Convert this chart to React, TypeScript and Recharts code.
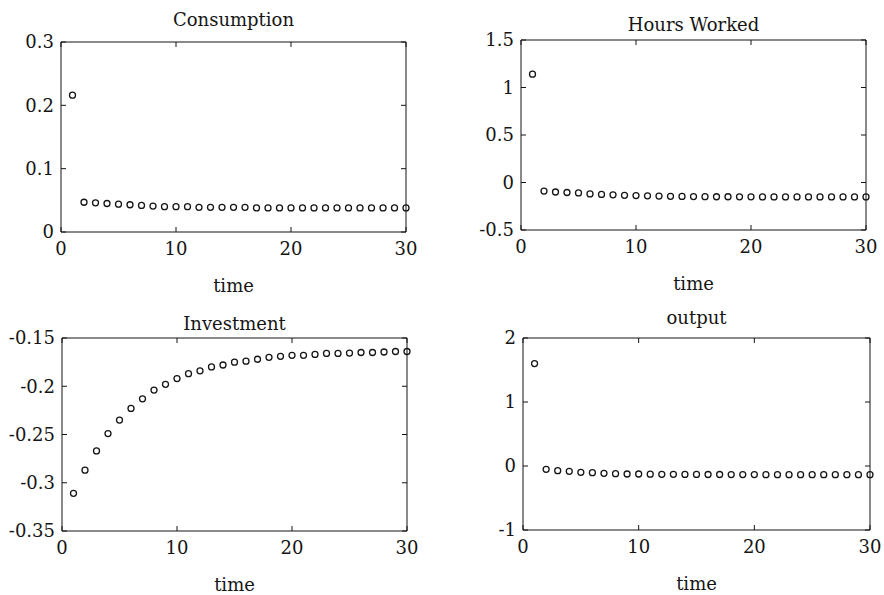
import { ScatterChart, Scatter, XAxis, YAxis, ReferenceArea, Label } from "recharts";

const timeTicks = [0, 10, 20, 30];

const consumption = [
  0.216, 0.047, 0.046, 0.045, 0.044, 0.043, 0.042, 0.041, 0.04, 0.04,
  0.04, 0.039, 0.039, 0.039, 0.039, 0.039, 0.038, 0.038, 0.038, 0.038,
  0.038, 0.038, 0.038, 0.038, 0.038, 0.038, 0.038, 0.038, 0.038, 0.038,
];
const consumptionTicks = [0, 0.1, 0.2, 0.3];

const hoursWorked = [
  1.14, -0.09, -0.1, -0.105, -0.11, -0.12, -0.125, -0.13, -0.135, -0.138,
  -0.14, -0.143, -0.145, -0.147, -0.148, -0.149, -0.15, -0.15, -0.151, -0.151,
  -0.152, -0.152, -0.152, -0.152, -0.152, -0.152, -0.152, -0.152, -0.152, -0.152,
];
const hoursTicks = [-0.5, 0, 0.5, 1, 1.5];

const investment = [
  -0.311, -0.287, -0.267, -0.249, -0.235, -0.223, -0.213, -0.204, -0.198, -0.192,
  -0.187, -0.184, -0.18, -0.178, -0.175, -0.174, -0.172, -0.17, -0.169, -0.168,
  -0.168, -0.167, -0.166, -0.166, -0.1656, -0.165, -0.165, -0.1645, -0.164, -0.164,
];
const investmentTicks = [-0.35, -0.3, -0.25, -0.2, -0.15];

const output = [
  1.6, -0.052, -0.073, -0.083, -0.099, -0.104, -0.114, -0.12, -0.125, -0.125,
  -0.128, -0.13, -0.13, -0.132, -0.132, -0.133, -0.133, -0.134, -0.134, -0.134,
  -0.135, -0.135, -0.135, -0.135, -0.135, -0.135, -0.135, -0.135, -0.135, -0.135,
];
const outputTicks = [-1, 0, 1, 2];

const INK = "#151515";
const TICK = 5;

const toPoints = (vals: number[]) => vals.map((v, i) => ({ t: i + 1, v }));

function Dot(p: any) {
  return <circle cx={p.cx} cy={p.cy} r={3} fill="none" stroke={INK} strokeWidth={1.3} />;
}

type PanelProps = {
  title: string;
  values: number[];
  yTicks: number[];
  left: number;
  top: number;
  w: number;
  h: number;
  titleOffset: number;
};

function Panel({ title, values, yTicks, left, top, w, h, titleOffset }: PanelProps) {
  const yMin = yTicks[0];
  const yMax = yTicks[yTicks.length - 1];

  // inward ticks on both sides + label at the left
  const yTick = (p: any) => (
    <g>
      <line x1={p.x} x2={p.x + TICK} y1={p.y} y2={p.y} stroke={INK} />
      <line x1={p.x + w} x2={p.x + w - TICK} y1={p.y} y2={p.y} stroke={INK} />
      <text x={p.x - 7} y={p.y} dy="0.36em" textAnchor="end" fill={INK} fontSize={18}>
        {p.payload.value}
      </text>
    </g>
  );
  const xTick = (p: any) => (
    <g>
      <line x1={p.x} x2={p.x} y1={p.y} y2={p.y - TICK} stroke={INK} />
      <line x1={p.x} x2={p.x} y1={p.y - h} y2={p.y - h + TICK} stroke={INK} />
      <text x={p.x} y={p.y + 23} textAnchor="middle" fill={INK} fontSize={18}>
        {p.payload.value}
      </text>
    </g>
  );

  return (
    <div style={{ position: "absolute", left: left - 60, top: top - 40 }}>
      <ScatterChart width={60 + w + 15} height={40 + h + 65} margin={{ top: 40, right: 15, left: 0, bottom: 0 }}>
        <XAxis
          type="number" dataKey="t" domain={[0, 30]} ticks={timeTicks} height={65}
          axisLine={false} tickLine={false} tickSize={0} tickMargin={0} tick={xTick} interval={0}
        >
          <Label value="time" position="insideBottom" offset={5} fill={INK} fontSize={18} />
        </XAxis>
        <YAxis
          type="number" dataKey="v" domain={[yMin, yMax]} ticks={yTicks} width={60}
          axisLine={false} tickLine={false} tickSize={0} tickMargin={0} tick={yTick} interval={0}
          allowDataOverflow
        />
        <ReferenceArea
          x1={0} x2={30} y1={yMin} y2={yMax} fill="none" stroke={INK} strokeWidth={1} fillOpacity={0}
          ifOverflow="visible"
          label={{ value: title, position: "top", offset: titleOffset, fill: INK, fontSize: 18 }}
        />
        <Scatter data={toPoints(values)} shape={Dot} isAnimationActive={false} />
      </ScatterChart>
    </div>
  );
}

export default function App() {
  return (
    <div
      style={{
        position: "absolute", left: 0, top: 0, width: 884, height: 595,
        background: "#fff", fontFamily: "'DejaVu Serif', serif", overflow: "hidden",
      }}
    >
      <Panel title="Consumption" values={consumption} yTicks={consumptionTicks}
        left={61} top={42} w={345} h={190} titleOffset={16} />
      <Panel title="Hours Worked" values={hoursWorked} yTicks={hoursTicks}
        left={521} top={40} w={345} h={190} titleOffset={9} />
      <Panel title="Investment" values={investment} yTicks={investmentTicks}
        left={62} top={338} w={345} h={193} titleOffset={8} />
      <Panel title="output" values={output} yTicks={outputTicks}
        left={523} top={338} w={347} h={192} titleOffset={14} />
    </div>
  );
}
